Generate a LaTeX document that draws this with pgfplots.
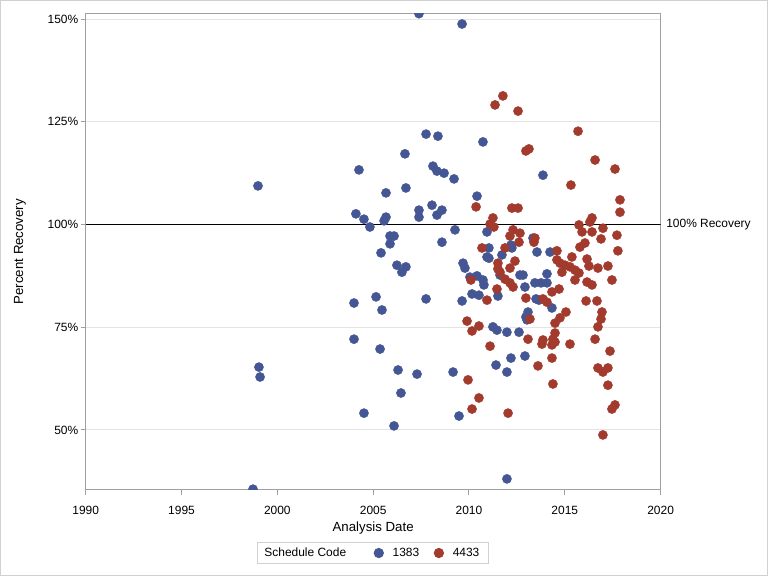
\documentclass[border=0pt]{standalone}
\usepackage{fontspec}
\setmainfont{Liberation Sans}
\usepackage{pgfplots}
\pgfplotsset{compat=1.18}
\definecolor{cblue}{HTML}{445694}
\definecolor{cred}{HTML}{A23A2E}
\definecolor{framegray}{HTML}{A0A0A0}
\definecolor{gridgray}{HTML}{E4E4E4}
\definecolor{bordergray}{HTML}{D0D0D0}
\pgfplotstableread{
x y
1998.99 109.4
1999.04 65.3
1999.10 62.9
1998.73 35.6
2004.00 80.9
2004.00 72.1
2004.10 102.6
2004.26 113.3
2004.52 101.3
2004.52 54.1
2004.83 99.4
2005.15 82.4
2005.36 69.7
2005.41 93.1
2005.46 79.2
2005.57 100.9
2005.67 101.8
2005.67 107.7
2005.88 97.2
2006.09 97.2
2005.88 95.3
2006.09 51.0
2006.24 90.1
2006.71 89.7
2006.50 88.4
2006.30 64.6
2006.45 59.0
2006.66 117.2
2006.71 108.9
2007.29 63.6
2007.39 103.5
2007.39 101.8
2007.39 151.3
2007.76 81.9
2007.76 122.0
2008.07 104.7
2008.12 114.2
2008.33 113.0
2008.33 102.3
2008.38 121.5
2008.59 103.5
2008.59 95.7
2008.70 112.5
2009.22 111.1
2009.27 98.7
2009.17 64.1
2009.48 53.4
2009.64 148.8
2009.64 81.4
2009.69 90.6
2009.79 89.4
2010.05 87.2
2010.42 87.5
2010.16 83.1
2010.52 82.8
2010.42 106.9
2010.73 120.1
2010.73 86.5
2010.78 85.3
2010.94 98.2
2011.04 94.3
2010.94 92.1
2011.04 91.8
2011.51 82.6
2011.25 75.1
2011.46 74.3
2011.41 65.8
2011.62 87.7
2011.72 92.6
2011.98 73.8
2011.98 64.1
2011.98 38.1
2012.19 95.0
2012.24 94.3
2012.19 67.5
2012.66 87.7
2012.82 87.7
2012.61 73.8
2012.92 84.8
2012.92 68.0
2012.97 77.5
2013.08 78.7
2013.03 76.8
2013.34 96.7
2013.55 93.3
2013.44 85.8
2013.76 85.8
2014.07 85.8
2013.50 81.9
2013.65 81.6
2013.86 112.0
2014.07 88.0
2014.23 93.3
2014.33 79.7
}\bluedata
\pgfplotstableread{
x y
2011.77 131.3
2011.36 129.1
2012.56 127.6
2015.69 122.7
2012.97 117.9
2013.13 118.4
2016.58 115.7
2017.62 113.5
2015.32 109.6
2010.37 104.3
2012.24 104.0
2012.56 104.0
2017.88 106.0
2017.88 103.0
2011.25 101.6
2011.10 100.1
2011.30 99.4
2012.30 98.7
2012.14 97.2
2012.66 97.9
2012.61 95.7
2013.44 96.7
2013.39 95.7
2010.68 94.3
2011.88 94.3
2015.74 99.9
2015.90 98.2
2016.31 100.6
2016.42 101.6
2016.99 99.1
2016.42 98.2
2017.72 97.4
2016.89 96.5
2016.05 95.5
2015.79 94.5
2017.77 93.6
2014.59 93.6
2014.59 91.4
2015.37 92.1
2014.75 90.6
2015.01 90.1
2014.85 88.4
2015.27 89.7
2015.53 88.9
2015.74 88.2
2016.16 91.6
2016.26 89.9
2016.73 89.4
2017.25 89.9
2015.53 86.5
2016.16 86.0
2016.42 85.3
2017.46 86.5
2014.70 84.3
2014.33 83.6
2016.11 81.4
2016.68 81.4
2015.06 78.7
2016.94 78.7
2014.75 77.3
2014.49 76.0
2016.89 77.0
2016.73 75.1
2014.49 73.6
2014.38 72.1
2014.49 71.4
2014.33 70.7
2015.27 70.9
2016.58 72.1
2017.36 69.2
2014.33 67.5
2016.73 65.1
2016.99 64.1
2017.25 65.1
2014.38 61.2
2017.25 60.9
2017.62 56.1
2017.46 55.1
2016.99 48.8
2012.40 91.1
2012.14 89.4
2011.51 90.6
2011.51 89.2
2011.62 88.4
2010.10 86.5
2011.88 86.7
2012.14 85.8
2012.30 84.8
2011.46 84.3
2010.94 81.6
2012.97 82.1
2013.86 81.9
2014.07 81.1
2009.90 76.5
2010.16 74.1
2010.52 75.3
2013.18 77.0
2013.08 72.1
2013.81 70.9
2013.86 71.9
2011.10 70.4
2013.60 65.6
2009.95 62.2
2010.52 57.8
2010.16 55.1
2012.04 54.1
}\reddata
\begin{document}
\begin{tikzpicture}[x=1bp,y=1bp]
\useasboundingbox (0,0) rectangle (768,576);
\fill[white] (0,0) rectangle (768,576);
\draw[bordergray, line width=1bp] (0.5,0.5) rectangle (767.5,575.5);
\begin{axis}[
  at={(85.7bp,86bp)}, anchor=south west,
  scale only axis, width=574.9bp, height=476.7bp,
  xmin=1990, xmax=2020, ymin=35.4, ymax=151.4,
  xtick={1990,1995,...,2020},
  ytick={50,75,100,125,150},
  minor tick num=0,
  yticklabel={\pgfmathprintnumber{\tick}\%},
  /pgf/number format/assume math mode=true,
  /pgf/number format/1000 sep={},
  tick align=outside,
  major tick length=5bp,
  tick style={framegray, line width=1bp},
  xtick pos=bottom, ytick pos=left,
  axis line style={framegray, line width=1bp},
  ymajorgrids, grid style={gridgray, line width=1bp},
  tick label style={font=\fontsize{12}{14}\selectfont, text=black},
  xticklabel style={yshift=-8bp},
  yticklabel style={xshift=1bp},
  xlabel={Analysis Date},
  ylabel={Percent Recovery},
  every axis x label/.style={at={(axis description cs:0.5,0)}, yshift=-38bp, anchor=center, font=\fontsize{13.3}{16}\selectfont},
  every axis y label/.style={at={(axis description cs:0,0.5)}, xshift=-65.7bp, rotate=90, anchor=center, font=\fontsize{13.3}{16}\selectfont},
  clip mode=individual,
  clip marker paths=true,
  legend columns=3,
  legend image code/.code={\draw[#1] plot coordinates {(0bp,0bp)};},
  legend style={at={(0.5,-0.1322)}, anchor=center, draw=bordergray, line width=1bp,
    font=\fontsize{12}{14}\selectfont, inner xsep=6bp, inner ysep=5bp,
    nodes={inner sep=0bp},
    /tikz/every odd column/.append style={column sep=9.3bp},
    /tikz/every even column/.append style={column sep=15bp}},
]
\addlegendimage{empty legend}
\addlegendentry{\hspace*{-8.8bp}Schedule Code\hspace*{13bp}}
\addplot[black, line width=1bp, no marks, forget plot] coordinates {(1990,100) (2020,100)};
\node[anchor=west, font=\fontsize{12}{14}\selectfont, inner sep=0bp] at (axis cs:2020,100) {\hspace*{5.5bp}100\% Recovery};
\addplot[only marks, mark=*, color=cblue, mark size=4.6bp] table[x=x,y=y] {\bluedata};
\addlegendentry{1383}
\addplot[only marks, mark=*, color=cred, mark size=4.6bp] table[x=x,y=y] {\reddata};
\addlegendentry{4433\hspace*{3bp}}
\end{axis}
\end{tikzpicture}
\end{document}
